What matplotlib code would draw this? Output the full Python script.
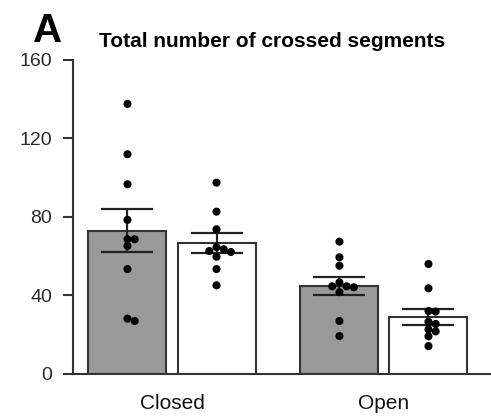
import numpy as np
import matplotlib
matplotlib.use("Agg")
import matplotlib.pyplot as plt

plt.rcParams['font.family'] = ['Liberation Sans', 'DejaVu Sans']

# ---- data ----
categories = ["Closed", "Open"]
group_names = ["gray", "white"]
means = {"gray": [72.9, 44.7], "white": [66.5, 28.7]}
sems = {"gray": [11.0, 4.6], "white": [5.0, 4.2]}
points = {
    ("Closed", "gray"): [137.6, 111.9, 96.6, 78.4, 68.5, 68.5, 65.1, 53.3, 28.0, 26.8],
    ("Closed", "white"): [97.4, 82.6, 73.6, 63.4, 62.5, 62.0, 64.5, 59.6, 53.3, 45.0],
    ("Open", "gray"): [67.3, 59.3, 55.0, 46.5, 44.5, 44.0, 44.5, 41.5, 26.8, 19.1],
    ("Open", "white"): [55.9, 43.5, 31.9, 31.6, 26.4, 25.3, 22.5, 21.5, 19.0, 14.0],
}
yticks = [0, 40, 80, 120, 160]
title = "Total number of crossed segments"
panel = "A"

# ---- style ----
W, H, DPI = 491, 420, 100
fig = plt.figure(figsize=(W / DPI, H / DPI), dpi=DPI)
ax_l, ax_r, ax_b, ax_t = 73, 491, 373.5, 60
ax = fig.add_axes([ax_l / W, (H - ax_b) / H, (ax_r - ax_l) / W, (ax_b - ax_t) / H])

xmin, xmax = -0.467, 1.505
ax.set_xlim(xmin, xmax)
ax.set_ylim(0, 160)
px_per_x = (ax_r - ax_l) / (xmax - xmin)
px_per_y = (ax_b - ax_t) / 160.0

bar_w = 0.368
offsets = {"gray": -0.21, "white": 0.21}
fills = {"gray": "#999999", "white": "#ffffff"}
edge = "#333333"

x = np.arange(len(categories))
for g in group_names:
    ax.bar(x + offsets[g], means[g], width=bar_w, color=fills[g],
           edgecolor=edge, linewidth=1.5, zorder=2)
    ax.errorbar(x + offsets[g], means[g], yerr=sems[g], fmt='none',
                ecolor="#222222", elinewidth=1.6, capsize=19, capthick=1.6, zorder=3)


def swarm(vals, d_px=8.0):
    """simple beeswarm: offsets in pixels"""
    order = np.argsort(vals)[::-1]
    placed = []
    offs = np.zeros(len(vals))
    for i in order:
        yp = vals[i] * px_per_y
        for k in [0, 1, -1, 2, -2, 3, -3]:
            xo = k * d_px * 0.9
            ok = all((xo - px) ** 2 + (yp - py) ** 2 >= (d_px * 0.8) ** 2 for px, py in placed)
            if ok:
                break
        placed.append((xo, yp))
        offs[i] = xo
    return offs

for ci, c in enumerate(categories):
    for g in group_names:
        vals = np.array(points[(c, g)])
        offs = swarm(vals) / px_per_x
        ax.scatter(ci + offsets[g] + offs, vals, s=34, color="black",
                   edgecolor="none", zorder=4)

for s in ["top", "right"]:
    ax.spines[s].set_visible(False)
for s in ["left", "bottom"]:
    ax.spines[s].set_linewidth(1.5)
    ax.spines[s].set_color(edge)

ax.set_yticks(yticks)
ax.set_yticklabels([str(t) for t in yticks])
ax.tick_params(axis='y', length=7.2, width=1.5, color=edge, labelsize=14,
               labelcolor="#2a2a2a", pad=8)
ax.set_xticks(x)
ax.set_xticklabels(categories)
ax.tick_params(axis='x', length=0, labelsize=15, labelcolor="#111111", pad=15)

fig.text(272 / W, 1 - 47 / H, title, ha='center', va='baseline',
         fontsize=15, fontweight='bold')
fig.text(47.5 / W, 1 - 42 / H, panel, ha='center', va='baseline',
         fontsize=29, fontweight='bold')

fig.savefig("out.png", dpi=DPI)
